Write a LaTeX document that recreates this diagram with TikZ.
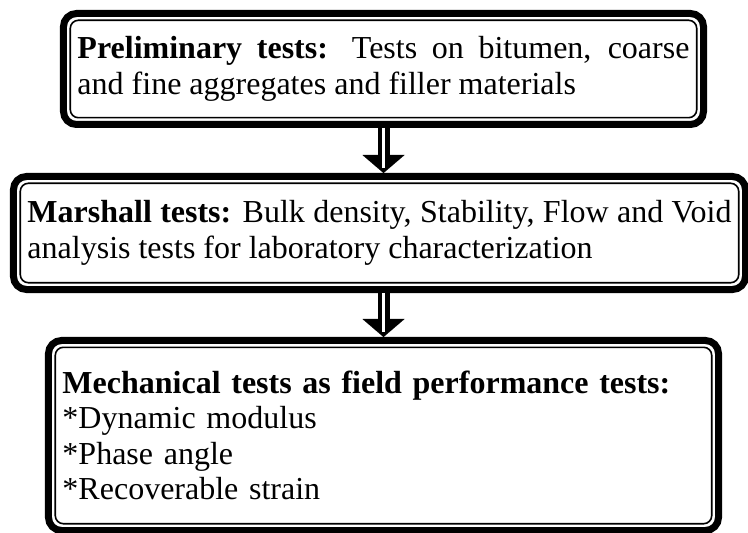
\documentclass[tikz,border=0pt]{standalone}
\usepackage{fontspec}
\setmainfont{Liberation Serif}
\usetikzlibrary{arrows.meta}
\usetikzlibrary{positioning}

\begin{document}
\begin{tikzpicture}[x=1bp, y=-1bp,
        testbox/.style={draw, line width=7bp, rounded corners=13bp, inner xsep=14bp, inner ysep=0bp,
            font=\fontsize{32bp}{35.5bp}\selectfont, align=justify,
            path picture={\draw[line width=1.6bp, rounded corners=8bp]
                ([shift={(6.8bp,6.8bp)}]path picture bounding box.south west) rectangle
                ([shift={(-6.8bp,-6.8bp)}]path picture bounding box.north east);}},
        flowarrow/.style={line width=12bp, -{Triangle[length=18bp, width=42bp, line width=0.01bp]}},
        flowcore/.style={white, line width=3.5bp, shorten >=5bp}]
            \useasboundingbox (0,0) rectangle (748,533);

            % Preliminary tests
            \node[testbox, text width=612bp, minimum height=111bp] (prelim) at (383.5,69)
                {\textbf{Preliminary tests:} Tests on bitumen, coarse\linebreak and fine aggregates and filler materials};

            % Marshall tests
            \node[testbox, text width=704bp, minimum height=113bp] (marshall) at (379.5,233)
                {\textbf{Marshall tests:} Bulk density, Stability, Flow and Void\linebreak analysis tests for laboratory characterization};

            % Mechanical tests
            \node[testbox, text width=642bp, minimum height=190bp, align=left] (mech) at (383.5,435.5)
                {\textbf{Mechanical tests as field performance tests:}\\{}*Dynamic modulus\\{}*Phase angle\\{}*Recoverable strain};

            % Hollow arrows between the stages
            \draw[flowarrow] (prelim.south) -- (prelim.south |- marshall.north);
            \draw[flowcore] (prelim.south) -- (prelim.south |- marshall.north);
            \draw[flowarrow] (mech.north |- marshall.south) -- (mech.north);
            \draw[flowcore] (mech.north |- marshall.south) -- (mech.north);
        \end{tikzpicture}
\end{document}
